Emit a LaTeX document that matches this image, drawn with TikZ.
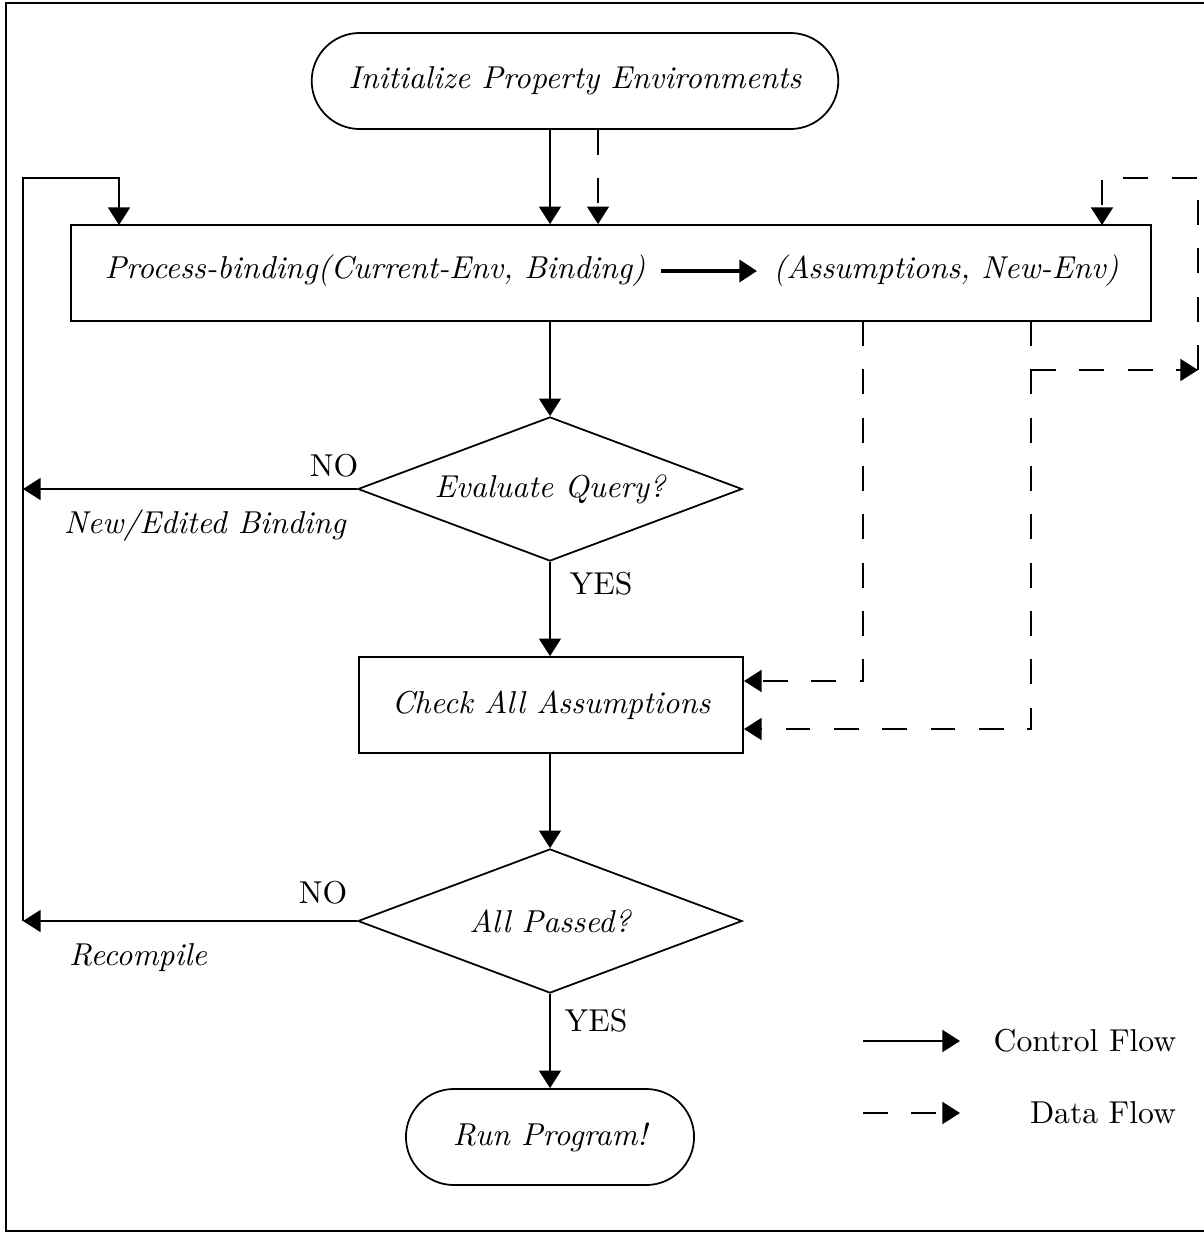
\documentclass[tikz,border=0pt]{standalone}
\usepackage{amsmath, amssymb}
\usepackage{xcolor}
\usepackage{tikz}
\usetikzlibrary{arrows.meta,positioning,calc,shapes.geometric,shapes.misc}

\newcommand{\flowfont}{\fontsize{10.8pt}{13pt}\selectfont}

\tikzset{
    term/.style={draw, rounded rectangle, line width=0.6pt, minimum height=1.152cm, font=\flowfont\itshape},
    procbox/.style={draw, rectangle, line width=0.6pt, minimum height=1.152cm, font=\flowfont\itshape},
    decide/.style={draw, diamond, aspect=2.667, line width=0.6pt, inner sep=0pt,
        minimum width=4.608cm, minimum height=1.728cm, font=\flowfont\itshape},
    ctrl/.style={->, line width=0.6pt},
    data/.style={->, line width=0.6pt, dash pattern=on 8.5pt off 8pt},
    flowlbl/.style={inner sep=0pt, font=\flowfont},
}

\begin{document}
\begin{tikzpicture}[>={Triangle[length=6pt,width=7.5pt]}, x=0.012cm, y=-0.012cm]
        \useasboundingbox (0,0) rectangle (1204,1233);
        \draw[line width=1pt] (1210,3) -- (6,3) -- (6,1231) -- (1210,1231);

        % Main flow
        \node[term, minimum width=6.55cm] (init) at (575,81) {Initialize Property Environments};
        \node[procbox, minimum width=12.96cm] (process) at (611,273) {};
        \node[flowlbl, font=\flowfont\itshape] (procin) at (375,271) {Process-binding(Current-Env, Binding)};
        \node[flowlbl, font=\flowfont\itshape] (procout) at (946,271) {(Assumptions, New-Env)};
        \node[decide] (evalq) at (550,489) {Evaluate Query?};
        \node[procbox, minimum width=4.608cm] (check) at (551,705) {Check All Assumptions};
        \node[decide] (passed) at (550,921) {All Passed?};
        \node[term, minimum width=3.69cm] (run) at (550,1137) {Run Program!};

        % Bends
        \coordinate (loopL) at (23,178);
        \coordinate (loopin) at (119,225);
        \coordinate (outA) at (863,321);
        \coordinate (outE) at (1031,321);
        \coordinate (envfork) at (1031,370);
        \coordinate (envend) at (1198,370);
        \coordinate (envtop) at (1198,178);
        \coordinate (envin) at (1102,225);

        \draw[line width=1.2pt, ->] (procin.east) ++(15,0) coordinate (bindS) -- (procout.west -| 757,0);

        % Control flow
        \draw[ctrl] (init.south -| evalq.north) -- (process.north -| evalq.north);
        \draw[ctrl] (process.south -| evalq.north) -- (evalq.north);
        \draw[ctrl] (evalq.south) -- (check.north -| evalq.south);
        \draw[ctrl] (check.south -| passed.north) -- (passed.north);
        \draw[ctrl] (passed.south) -- (run.north);
        \draw[ctrl] (evalq.west) -- (evalq.west -| loopL);
        \draw[ctrl] (passed.west) -- (passed.west -| loopL);
        \draw[ctrl] (passed.west -| loopL) -- (loopL) -| (loopin);

        % Data flow
        \draw[data] ([xshift=0.276cm]init.south) -- ([xshift=0.276cm]init.south |- process.north);
        \draw[data] (outA) |- ([yshift=0.288cm]check.east);
        \draw[data] (outE) |- ([yshift=-0.288cm]check.east);
        \draw[data] (envfork) -- (envend);
        \draw[data] (envend) -- (envtop) -| (envin);

        % Labels
        \node[flowlbl] (no1) at (334,466) {NO};
        \node[flowlbl, font=\flowfont\itshape] (edit) at (205,526) {New/Edited Binding};
        \node[flowlbl] (yes1) at (601,584) {YES};
        \node[flowlbl] (no2) at (323,893) {NO};
        \node[flowlbl, font=\flowfont\itshape] (recomp) at (138,958) {Recompile};
        \node[flowlbl] (yes2) at (596,1021) {YES};

        % Legend
        \node[flowlbl] (ctrlkey) at (1085,1041) {Control Flow};
        \node[flowlbl] (datakey) at (1103,1113) {Data Flow};
        \draw[ctrl] (863,1041) -- (960,1041);
        \draw[data] (863,1113) -- (960,1113);
    \end{tikzpicture}
\end{document}
